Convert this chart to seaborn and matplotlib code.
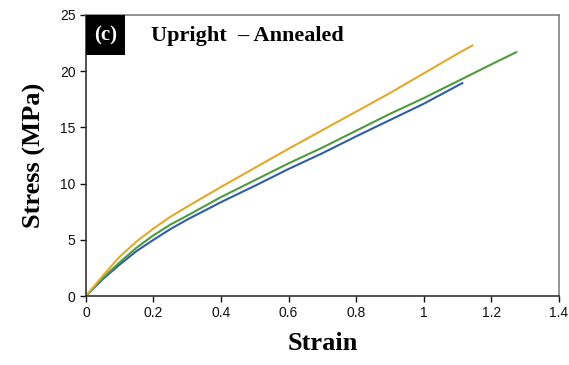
import pandas as pd
import matplotlib
matplotlib.use("Agg")
import matplotlib.pyplot as plt
import seaborn as sns
from matplotlib.patches import Rectangle

# stress-strain curves
blue_strain = [0, 0.05, 0.1, 0.15, 0.2, 0.25, 0.3, 0.4, 0.5, 0.6, 0.7, 0.8, 0.9, 1.0, 1.115]
blue_stress = [0, 1.5, 2.8, 4.0, 5.0, 5.95, 6.8, 8.35, 9.8, 11.3, 12.7, 14.2, 15.65, 17.1, 18.95]

green_strain = [0, 0.05, 0.1, 0.15, 0.2, 0.25, 0.3, 0.4, 0.5, 0.6, 0.7, 0.8, 0.9, 1.0, 1.1, 1.2, 1.275]
green_stress = [0, 1.6, 3.0, 4.3, 5.4, 6.35, 7.15, 8.8, 10.3, 11.8, 13.2, 14.7, 16.2, 17.6, 19.1, 20.6, 21.7]

yellow_strain = [0, 0.05, 0.1, 0.15, 0.2, 0.25, 0.3, 0.4, 0.5, 0.6, 0.7, 0.8, 0.9, 1.0, 1.1, 1.145]
yellow_stress = [0, 1.8, 3.5, 4.85, 6.0, 7.05, 7.95, 9.7, 11.4, 13.1, 14.75, 16.4, 18.05, 19.8, 21.55, 22.3]

x_ticks = [0, 0.2, 0.4, 0.6, 0.8, 1.0, 1.2, 1.4]
x_tick_labels = ["0", "0.2", "0.4", "0.6", "0.8", "1", "1.2", "1.4"]
y_ticks = [0, 5, 10, 15, 20, 25]

colors = {"blue": "#2f5ea8", "green": "#4f9a3c", "yellow": "#e3a92b"}

frames = []
for name, xs, ys in [("blue", blue_strain, blue_stress),
                     ("green", green_strain, green_stress),
                     ("yellow", yellow_strain, yellow_stress)]:
    frames.append(pd.DataFrame({"Strain": xs, "Stress": ys, "sample": name}))
df = pd.concat(frames, ignore_index=True)

sns.set_style("ticks")
plt.rcParams["font.family"] = ["Liberation Sans", "DejaVu Sans"]
plt.rcParams["text.color"] = "black"
plt.rcParams["axes.labelcolor"] = "black"

fig = plt.figure(figsize=(5.69, 3.65), dpi=100)
ax = fig.add_axes([0.151, 0.189, 0.831, 0.770])

sns.lineplot(data=df, x="Strain", y="Stress", hue="sample", palette=colors,
             hue_order=["blue", "green", "yellow"], sort=False,
             linewidth=1.5, legend=False, ax=ax)

ax.set_xlim(0, 1.4)
ax.set_ylim(0, 25)
ax.set_xticks(x_ticks)
ax.set_xticklabels(x_tick_labels)
ax.set_yticks(y_ticks)
ax.tick_params(direction="out", length=4, width=1, labelsize=10, colors="#111111")

for side in ["left", "bottom"]:
    ax.spines[side].set_color("#333333")
    ax.spines[side].set_linewidth(1.2)
for side in ["top", "right"]:
    ax.spines[side].set_visible(True)
    ax.spines[side].set_color("#808080")
    ax.spines[side].set_linewidth(1.2)

ax.set_xlabel("Strain", fontsize=19, fontweight="bold", family="Liberation Serif", labelpad=8)
ax.set_ylabel("Stress (MPa)", fontsize=19, fontweight="bold", family="Liberation Serif", labelpad=10)

# panel tag
ax.add_patch(Rectangle((0, 0.857), 0.082, 0.143, transform=ax.transAxes,
                       facecolor="black", edgecolor="none", zorder=5))
ax.text(0.041, 0.928, "(c)", transform=ax.transAxes, color="white",
        fontsize=15, fontweight="bold", family="Liberation Serif",
        ha="center", va="center", zorder=6)
ax.text(0.138, 0.925, "Upright  \u2013 Annealed", transform=ax.transAxes,
        fontsize=16, fontweight="bold", family="Liberation Serif",
        ha="left", va="center")

fig.savefig("out.png", dpi=100)
